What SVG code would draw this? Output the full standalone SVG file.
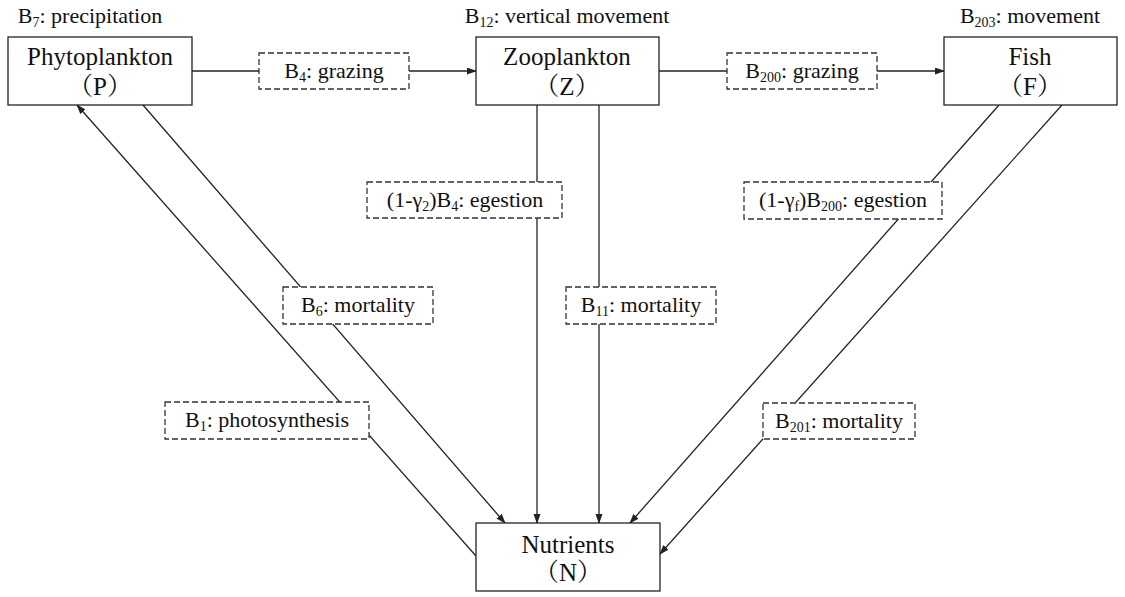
<svg xmlns="http://www.w3.org/2000/svg" width="1125" height="597" viewBox="0 0 1125 597">
<style>
text{font-family:'Liberation Serif',Tinos,'Times New Roman','DejaVu Serif',serif;fill:#111;text-anchor:middle}
.cjk{font-family:'Liberation Serif','Noto Serif CJK SC','Noto Sans CJK SC',serif}
.t{font-size:22px}
.n{font-size:25px}
.s{font-size:14px}
.node{fill:#fff;stroke:#222;stroke-width:1.3}
.lab{fill:#fff;stroke:#333;stroke-width:1.3;stroke-dasharray:6,3}
.c{stroke:#222;stroke-width:1.3;fill:none}
</style>
<defs>
<marker id="a" markerWidth="10" markerHeight="8" refX="9" refY="3.5" orient="auto" markerUnits="userSpaceOnUse">
<path d="M0,0 L10,3.5 L0,7 Z" fill="#222"/>
</marker>
</defs>
<g id="connectors">
<line class="c" x1="192" y1="71" x2="259" y2="71"/>
<line class="c" x1="409" y1="71" x2="476" y2="71" marker-end="url(#a)"/>
<line class="c" x1="659" y1="71" x2="727" y2="71"/>
<line class="c" x1="877" y1="71" x2="944" y2="71" marker-end="url(#a)"/>
<line class="c" x1="476" y1="556" x2="77" y2="105" marker-end="url(#a)"/>
<line class="c" x1="143" y1="105" x2="505" y2="523" marker-end="url(#a)"/>
<line class="c" x1="537" y1="105" x2="537" y2="523" marker-end="url(#a)"/>
<line class="c" x1="599" y1="105" x2="599" y2="523" marker-end="url(#a)"/>
<line class="c" x1="999" y1="105" x2="630" y2="523" marker-end="url(#a)"/>
<line class="c" x1="1062" y1="105" x2="660" y2="554" marker-end="url(#a)"/>
</g>
<g id="title-P"><text class="t" x="90" y="23">B<tspan class="s" dy="4">7</tspan><tspan dy="-4">: precipitation</tspan></text></g>
<g id="title-Z"><text class="t" x="567" y="23">B<tspan class="s" dy="4">12</tspan><tspan dy="-4">: vertical movement</tspan></text></g>
<g id="title-F"><text class="t" x="1030" y="23">B<tspan class="s" dy="4">203</tspan><tspan dy="-4">: movement</tspan></text></g>
<g id="node-P">
<rect class="node" x="8" y="37" width="184" height="68"/>
<text class="n" x="100" y="65">Phytoplankton</text>
<text class="n cjk" x="100" y="95">（P）</text>
</g>
<g id="node-Z">
<rect class="node" x="476" y="37" width="183" height="68"/>
<text class="n" x="567" y="65">Zooplankton</text>
<text class="n cjk" x="567" y="95">（Z）</text>
</g>
<g id="node-F">
<rect class="node" x="944" y="37" width="173" height="68"/>
<text class="n" x="1030" y="65">Fish</text>
<text class="n cjk" x="1030" y="95">（F）</text>
</g>
<g id="node-N">
<rect class="node" x="476" y="523" width="184" height="68"/>
<text class="n" x="568" y="553">Nutrients</text>
<text class="n cjk" x="568" y="581">（N）</text>
</g>
<g id="label-B4">
<rect class="lab" x="259" y="53" width="150" height="36"/>
<text class="t" x="334" y="78">B<tspan class="s" dy="4">4</tspan><tspan dy="-4">: grazing</tspan></text>
</g>
<g id="label-B200">
<rect class="lab" x="727" y="53" width="150" height="36"/>
<text class="t" x="802" y="78">B<tspan class="s" dy="4">200</tspan><tspan dy="-4">: grazing</tspan></text>
</g>
<g id="label-egestZ">
<rect class="lab" x="367" y="182" width="195" height="36"/>
<text class="t" x="465" y="207">(1-γ<tspan class="s" dy="4">2</tspan><tspan dy="-4">)B</tspan><tspan class="s" dy="4">4</tspan><tspan dy="-4">: egestion</tspan></text>
</g>
<g id="label-egestF">
<rect class="lab" x="744" y="182" width="198" height="37"/>
<text class="t" x="843" y="207">(1-γ<tspan class="s" dy="4">f</tspan><tspan dy="-4">)B</tspan><tspan class="s" dy="4">200</tspan><tspan dy="-4">: egestion</tspan></text>
</g>
<g id="label-B6">
<rect class="lab" x="283" y="287" width="150" height="37"/>
<text class="t" x="358" y="312">B<tspan class="s" dy="4">6</tspan><tspan dy="-4">: mortality</tspan></text>
</g>
<g id="label-B11">
<rect class="lab" x="566" y="287" width="150" height="37"/>
<text class="t" x="641" y="312">B<tspan class="s" dy="4">11</tspan><tspan dy="-4">: mortality</tspan></text>
</g>
<g id="label-B1">
<rect class="lab" x="165" y="402" width="204" height="37"/>
<text class="t" x="267" y="427">B<tspan class="s" dy="4">1</tspan><tspan dy="-4">: photosynthesis</tspan></text>
</g>
<g id="label-B201">
<rect class="lab" x="763" y="403" width="152" height="36"/>
<text class="t" x="839" y="428">B<tspan class="s" dy="4">201</tspan><tspan dy="-4">: mortality</tspan></text>
</g>
</svg>
